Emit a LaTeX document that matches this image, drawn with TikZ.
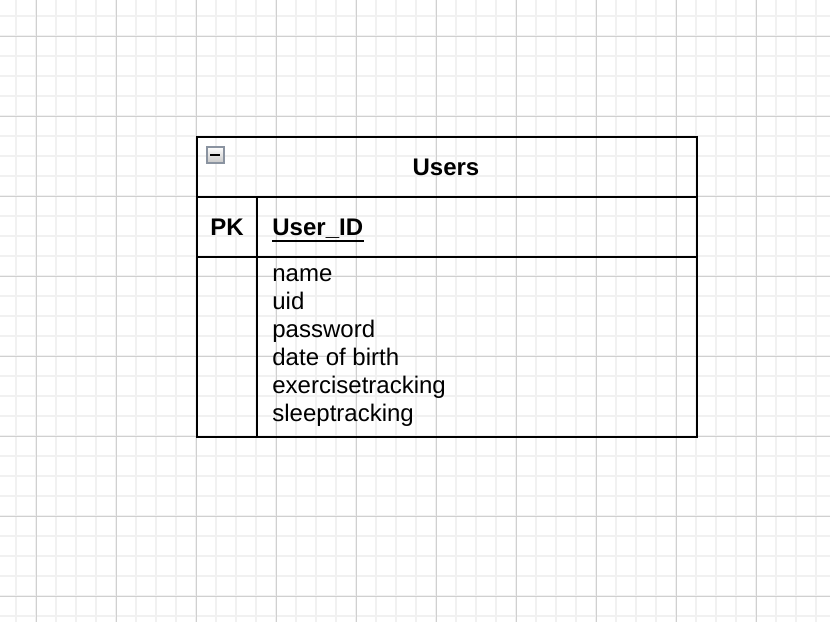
\documentclass[tikz,border=0pt]{standalone}
\usepackage{fontspec}
\setmainfont{Liberation Sans}
\usepackage{xcolor}
\usepackage{tikz}
\definecolor{minorgrid}{HTML}{F1F1F1}
\definecolor{majorgrid}{HTML}{D0D0D0}
\definecolor{iconedge}{HTML}{8A93A0}
\tikzstyle{minor line}=[draw=minorgrid, line width=0.9pt]
\tikzstyle{major line}=[draw=majorgrid, line width=0.5pt]
\tikzstyle{table line}=[draw=black, line width=1pt]
\tikzstyle{field}=[anchor=base west, inner sep=0pt, font=\fontsize{12}{14}\selectfont]
\tikzstyle{head}=[anchor=base, inner sep=0pt, font=\fontsize{12}{14}\selectfont\bfseries]

\begin{document}
\begin{tikzpicture}[x=0.5pt, y=-0.5pt]
		\useasboundingbox (0,0) rectangle (830,622);
		\fill[white] (0,0) rectangle (830,622);

		% grid
		\foreach \g in {16,36,...,816} {
			\draw [style=minor line] (\g,0) -- (\g,622);
			\draw [style=minor line] (0,\g) -- (830,\g);
		}
		\foreach \g in {36,116,...,756} \draw [style=major line] (\g,0) -- (\g,622);
		\foreach \g in {36,116,...,596} \draw [style=major line] (0,\g) -- (830,\g);

		% table
		\draw [style=table line] (197,137) rectangle (696.5,436.5);
		\draw [style=table line] (197,196.8) -- (696.5,196.8);
		\draw [style=table line] (197,257) -- (696.5,257);
		\draw [style=table line] (257,196.8) -- (257,436.5);

		% collapse icon
		\shade [top color=white, bottom color=black!22, draw=iconedge, line width=1pt] (206.5,146.5) rectangle (223.5,163);
		\draw [line width=1.2pt] (210,155) -- (220,155);

		\node [style=head] (title) at (446,175) {Users};
		\node [style=head] (pk) at (227,235) {PK};
		\node [style=head, anchor=base west] (key) at (272,235) {User\_ID};
		\draw [line width=1pt] ([yshift=-3.2pt]key.base west) -- ([yshift=-3.2pt]key.base east);

		\foreach \txt [count=\i] in {name, uid, password, date of birth, exercisetracking, sleeptracking}
			\node [style=field] (f\i) at (272,{253.5+28*\i}) {\txt};

\end{tikzpicture}
\end{document}
